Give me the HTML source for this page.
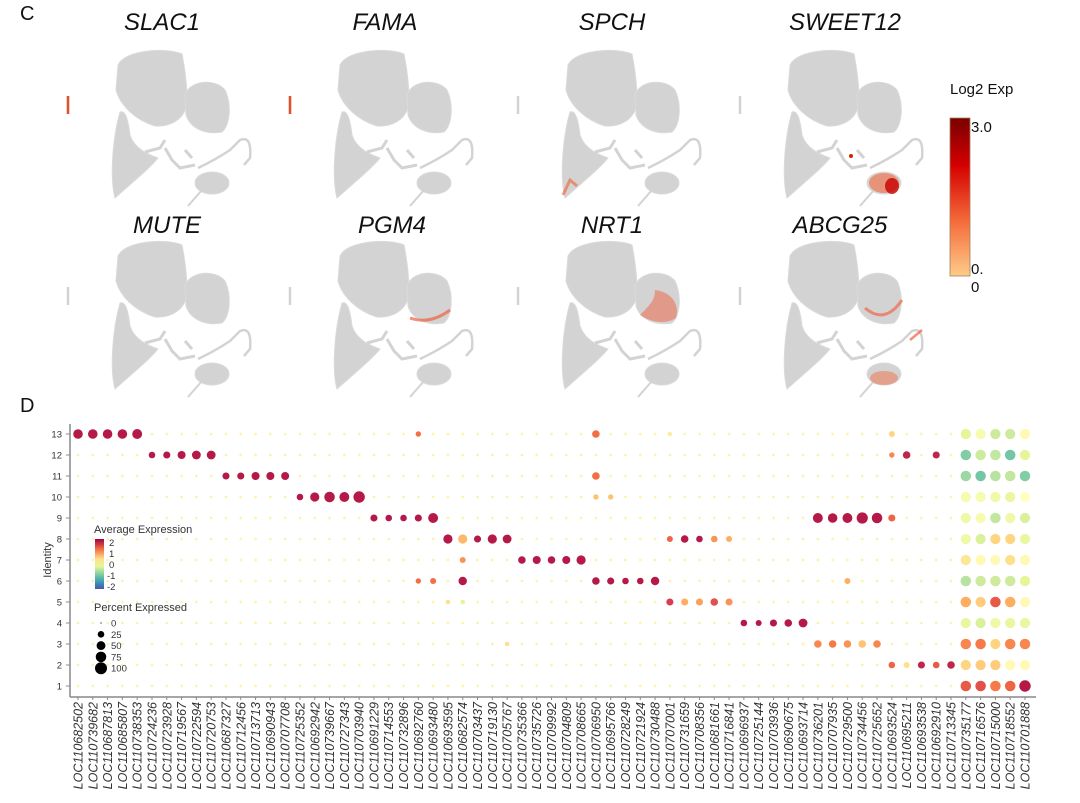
<!DOCTYPE html>
<html><head><meta charset="utf-8"><style>
html,body{margin:0;padding:0;background:#fff;}
svg{display:block;font-family:"Liberation Sans",Arial,sans-serif;}
</style></head><body>
<svg id="fig" width="1080" height="803" viewBox="0 0 1080 803" xmlns="http://www.w3.org/2000/svg">
<defs>
<linearGradient id="log2grad" x1="0" y1="0" x2="0" y2="1">
<stop offset="0" stop-color="#7a0000"/><stop offset="0.3" stop-color="#d40000"/><stop offset="0.65" stop-color="#f46a3a"/><stop offset="1" stop-color="#fdcc8a"/>
</linearGradient>
<linearGradient id="specgrad" x1="0" y1="0" x2="0" y2="1">
<stop offset="0" stop-color="#9e0142"/><stop offset="0.2" stop-color="#f46d43"/><stop offset="0.4" stop-color="#fee08b"/><stop offset="0.55" stop-color="#e6f598"/><stop offset="0.75" stop-color="#66c2a5"/><stop offset="0.9" stop-color="#3288bd"/><stop offset="1" stop-color="#5e4fa2"/>
</linearGradient>
<symbol id="umap" viewBox="0 0 300 220" width="300" height="220" overflow="visible">
<g fill="#d3d3d3" stroke="#dadada" stroke-width="1">
<path d="M118,65 C125,50 165,47 182,54 C186,75 188,95 186,108 C182,120 170,127 155,126 C135,120 120,105 116,90 Z"/>
<path d="M185,95 C190,80 215,78 225,90 C232,105 230,125 222,132 C205,135 190,128 186,115 Z"/>
<path d="M120,112 C125,110 128,118 130,135 C135,150 150,155 158,158 C150,168 135,180 115,198 C110,180 112,140 120,112 Z"/>
<ellipse cx="212" cy="183" rx="17" ry="11"/>
</g>
<g fill="none" stroke="#d3d3d3" stroke-width="3">
<path d="M145,152 L160,148 L165,140 M165,148 L172,160 L180,168 L195,165 M185,150 L192,158"/>
<path d="M198,168 Q215,160 230,150 L240,140 Q252,135 250,158 L244,165" stroke-width="2.5"/>
<path d="M202,190 L188,206" stroke-width="2"/>
<path d="M68,96 L68,114" stroke-width="2.5"/>
</g>
</symbol>
</defs>

<text x="20" y="20" font-size="20" fill="#111">C</text>
<text x="20" y="412" font-size="20" fill="#111">D</text>

<g>
<text x="162" y="30" font-size="24" font-style="italic" text-anchor="middle" fill="#111">SLAC1</text>
<use href="#umap" x="0" y="0"/>
<path d="M68,96 L68,114" stroke="#e0502a" stroke-width="2.5" fill="none"/>
</g>
<g>
<text x="385" y="30" font-size="24" font-style="italic" text-anchor="middle" fill="#111">FAMA</text>
<use href="#umap" x="222" y="0"/>
<path d="M290,96 L290,114" stroke="#e0502a" stroke-width="2.5" fill="none"/>
</g>
<g>
<text x="612" y="30" font-size="24" font-style="italic" text-anchor="middle" fill="#111">SPCH</text>
<use href="#umap" x="450" y="0"/>
<path d="M563,195 L570,180 L577,186" stroke="#f07048" stroke-width="3" fill="none" opacity="0.7"/>
</g>
<g>
<text x="845" y="30" font-size="24" font-style="italic" text-anchor="middle" fill="#111">SWEET12</text>
<use href="#umap" x="672" y="0"/>
<ellipse cx="884" cy="183" rx="15" ry="10" fill="#f07048" opacity="0.65"/>
<ellipse cx="892" cy="186" rx="7" ry="8" fill="#c80000" opacity="0.8"/>
<circle cx="851" cy="156" r="2" fill="#d82000"/>
</g>
<g>
<text x="167" y="233" font-size="24" font-style="italic" text-anchor="middle" fill="#111">MUTE</text>
<use href="#umap" x="0" y="191"/>
</g>
<g>
<text x="392" y="233" font-size="24" font-style="italic" text-anchor="middle" fill="#111">PGM4</text>
<use href="#umap" x="222" y="191"/>
<path d="M410,318 Q430,325 450,310" stroke="#f06040" stroke-width="3" fill="none" opacity="0.7"/>
</g>
<g>
<text x="612" y="233" font-size="24" font-style="italic" text-anchor="middle" fill="#111">NRT1</text>
<use href="#umap" x="450" y="191"/>
<path d="M655,290 C672,292 680,305 676,318 C665,325 650,322 640,315 C650,305 655,300 655,290 Z" fill="#f06040" opacity="0.5"/>
</g>
<g>
<text x="840" y="233" font-size="24" font-style="italic" text-anchor="middle" fill="#111">ABCG25</text>
<use href="#umap" x="672" y="191"/>
<path d="M865,308 Q885,325 902,300" stroke="#f06040" stroke-width="3" fill="none" opacity="0.65"/>
<ellipse cx="884" cy="378" rx="14" ry="7" fill="#f07048" opacity="0.5"/>
<path d="M910,340 L922,330" stroke="#f06040" stroke-width="2.5" opacity="0.7"/>
</g>

<g>
<text x="950" y="94" font-size="15" fill="#111">Log2 Exp</text>
<rect x="950" y="118" width="20" height="158" fill="url(#log2grad)" stroke="#a08060" stroke-width="0.8"/>
<text x="971" y="132" font-size="15" fill="#111">3.0</text>
<text x="971" y="274" font-size="15" fill="#111">0.</text>
<text x="971" y="292" font-size="15" fill="#111">0</text>
</g>

<g id="dotplot">
<line x1="70" y1="424" x2="70" y2="697" stroke="#888" stroke-width="1.5"/>
<line x1="70" y1="697" x2="1036" y2="697" stroke="#888" stroke-width="1.5"/>
<text transform="translate(51,560) rotate(-90)" font-size="11" text-anchor="middle" fill="#333">Identity</text>
<g id="rowlabels"></g>
<g id="collabels"></g>
<g id="dots"></g>
<g>
<text x="94" y="533" font-size="11" fill="#333">Average Expression</text>
<rect x="95" y="539" width="9" height="50" fill="url(#specgrad)"/>
<text x="109" y="546" font-size="9.5" fill="#333">2</text>
<text x="109" y="557" font-size="9.5" fill="#333">1</text>
<text x="109" y="568" font-size="9.5" fill="#333">0</text>
<text x="107" y="579" font-size="9.5" fill="#333">-1</text>
<text x="107" y="590" font-size="9.5" fill="#333">-2</text>
</g>
<g id="sizelegend">
<text x="94" y="611" font-size="11" fill="#333">Percent Expressed</text>
</g>
</g>
</svg>
<script>
const genes = ["LOC110682502","LOC110739682","LOC110687813","LOC110685807","LOC110738353","LOC110724236","LOC110723928","LOC110719567","LOC110722594","LOC110720753","LOC110687327","LOC110712456","LOC110713713","LOC110690943","LOC110707708","LOC110725352","LOC110692942","LOC110739667","LOC110727343","LOC110703940","LOC110691229","LOC110714553","LOC110732896","LOC110692760","LOC110693480","LOC110693595","LOC110682574","LOC110703437","LOC110719130","LOC110705767","LOC110735366","LOC110735726","LOC110709992","LOC110704809","LOC110708665","LOC110706950","LOC110695766","LOC110728249","LOC110721924","LOC110730488","LOC110707001","LOC110731659","LOC110708356","LOC110681661","LOC110716841","LOC110696937","LOC110725144","LOC110703936","LOC110690675","LOC110693714","LOC110736201","LOC110707935","LOC110729500","LOC110734456","LOC110725652","LOC110693524","LOC110695211","LOC110693538","LOC110692910","LOC110713345","LOC110735177","LOC110716576","LOC110715000","LOC110718552","LOC110701888"];
const identities = [1,2,3,4,5,6,7,8,9,10,11,12,13];
const markerRow = [13,13,13,13,13, 12,12,12,12,12, 11,11,11,11,11, 10,10,10,10,10, 9,9,9,9,9, 8,8,8,8,8, 7,7,7,7,7, 6,6,6,6,6, 8,8,8,8,8, 4,4,4,4,4, 9,9,9,9,9, 2,2,2,2,2];
const markerExp = [2.3,2.3,2.3,2.3,2.3, 2.3,2.3,2.3,2.3,2.3, 2.3,2.3,2.3,2.3,2.3, 2.3,2.3,2.3,2.3,2.3, 2.3,2.3,2.3,2.3,2.3, 2.3,0.9,2.3,2.3,2.3, 2.3,2.3,2.3,2.3,2.3, 2.3,2.3,2.3,2.3,2.3, 1.6,2.3,2.3,1.2,1.0, 2.3,2.3,2.3,2.3,2.3, 2.3,2.3,2.3,2.3,2.3, 1.6,0.5,2.2,1.7,2.2];
const markerPct = [60,60,60,60,65, 25,30,40,50,50, 30,30,40,40,40, 25,55,75,65,90, 30,25,25,30,65, 55,55,30,55,50, 35,40,35,40,55, 35,30,25,25,45, 20,35,25,25,20, 25,20,30,35,50, 65,60,65,85,75, 25,20,30,25,35];
const extraDots = [[23,13,1.5,15],[23,6,1.5,15],[24,6,1.5,20],[26,7,1.2,20],[26,6,2.3,45],[35,13,1.5,35],[35,11,1.5,35],[35,10,0.8,15],[36,10,0.8,15],[40,5,2.0,30],[41,5,1.0,30],[42,5,1.1,30],[43,5,1.8,35],[44,5,1.2,30],[50,3,1.3,35],[51,3,1.4,35],[52,3,1.2,35],[53,3,0.8,35],[54,3,1.3,35],[52,6,1.0,20],[55,9,1.6,30],[55,13,0.6,20],[55,12,1.3,15],[56,12,2.2,35],[58,12,2.2,30],[25,5,0.5,10],[26,5,-0.5,10],[29,3,0.5,10],[40,13,0.3,10]];
const blockExp = [[1.7,1.8,1.4,1.6,2.3],[0.6,0.7,0.7,0.1,0.1],[1.3,1.4,0.6,1.3,1.3],[-0.4,-0.6,-0.3,-0.4,-0.4],[1.0,0.7,1.7,1.0,0.1],[-0.9,-0.7,-0.7,-0.7,-0.5],[0.4,0.1,0.1,0.5,0.1],[-0.3,-0.6,0.6,0.6,-0.4],[-0.3,-0.2,-0.8,-0.3,-0.6],[-0.2,-0.2,-0.3,-0.4,0.0],[-1.1,-1.4,-0.9,-0.8,-1.3],[-1.3,-0.7,-0.8,-1.4,-0.5],[-0.5,-0.2,-0.7,-0.7,0.1]];
const blockPct = [[75,75,75,75,90],[70,70,70,70,70],[75,75,70,75,75],[70,70,70,70,70],[75,70,75,75,70],[75,75,75,75,70],[70,70,70,70,70],[70,70,70,70,70],[70,70,75,70,70],[70,70,70,70,70],[75,75,75,75,75],[75,75,75,75,70],[70,70,70,70,70]];
const sizeLegendPct = [0,25,50,75,100];

const NS="http://www.w3.org/2000/svg";
const spectral=["#9e0142","#d53e4f","#f46d43","#fdae61","#fee08b","#ffffbf","#e6f598","#abdda4","#66c2a5","#3288bd","#5e4fa2"];
function hex(c){return [1,3,5].map(i=>parseInt(c.substr(i,2),16));}
function color(v){let t=(2.5-v)/0.5;t=Math.max(0,Math.min(10,t));const i=Math.min(9,Math.floor(t));const f=t-i;const a=hex(spectral[i]),b=hex(spectral[i+1]);return "rgb("+a.map((x,k)=>Math.round(x+(b[k]-x)*f)).join(",")+")";}
function xPos(i){return 78+i*(1025-78)/(genes.length-1);}
function yPos(r){return 686-(r-1)*21;}
function rad(p){return 0.6+Math.sqrt(p/100)*5.4;}

const rowG=document.getElementById('rowlabels');
identities.forEach(r=>{
  const t=document.createElementNS(NS,'text');
  t.setAttribute('x',62);t.setAttribute('y',yPos(r)+3.5);t.setAttribute('font-size','9.5');t.setAttribute('text-anchor','end');t.setAttribute('fill','#333');
  t.textContent=r;
  
  
  rowG.appendChild(t);
  const l=document.createElementNS(NS,'line');
  l.setAttribute('x1',66);l.setAttribute('x2',70);l.setAttribute('y1',yPos(r));l.setAttribute('y2',yPos(r));l.setAttribute('stroke','#888');
  rowG.appendChild(l);
});
const colG=document.getElementById('collabels');
genes.forEach((g,i)=>{
  const x=xPos(i);
  const t=document.createElementNS(NS,'text');
  t.setAttribute('transform','translate('+(x+4.5)+',702) rotate(-90)');
  t.setAttribute('font-size','12.5');t.setAttribute('font-style','italic');t.setAttribute('text-anchor','end');t.setAttribute('fill','#333');
  t.textContent=g;
  
  
  colG.appendChild(t);
  const l=document.createElementNS(NS,'line');
  l.setAttribute('x1',x);l.setAttribute('x2',x);l.setAttribute('y1',697);l.setAttribute('y2',700);l.setAttribute('stroke','#888');
  colG.appendChild(l);
});
const cells={};
genes.forEach((g,i)=>identities.forEach(r=>{cells[i+'_'+r]=[0.2,2];}));
markerRow.forEach((r,i)=>{cells[i+'_'+r]=[markerExp[i],markerPct[i]];});
extraDots.forEach(d=>{cells[d[0]+'_'+d[1]]=[d[2],d[3]];});
blockExp.forEach((row,ri)=>row.forEach((v,k)=>{cells[(60+k)+'_'+(ri+1)]=[v,blockPct[ri][k]];}));
const dotG=document.getElementById('dots');
Object.keys(cells).forEach(key=>{
  const [i,r]=key.split('_').map(Number);const [v,p]=cells[key];
  const c=document.createElementNS(NS,'circle');
  c.setAttribute('cx',xPos(i));c.setAttribute('cy',yPos(r));c.setAttribute('r',rad(p));c.setAttribute('fill',color(v));
  
  
  dotG.appendChild(c);
});
const sl=document.getElementById('sizelegend');
sizeLegendPct.forEach((p,k)=>{
  const y=623+k*11.3;
  const c=document.createElementNS(NS,'circle');
  c.setAttribute('cx',101);c.setAttribute('cy',y);c.setAttribute('r',rad(p));c.setAttribute('fill','#000');
  
  
  sl.appendChild(c);
  const t=document.createElementNS(NS,'text');
  t.setAttribute('x',111);t.setAttribute('y',y+3.5);t.setAttribute('font-size','9.5');t.setAttribute('fill','#333');
  t.textContent=p;
  
  
  sl.appendChild(t);
});
</script>
</body></html>
